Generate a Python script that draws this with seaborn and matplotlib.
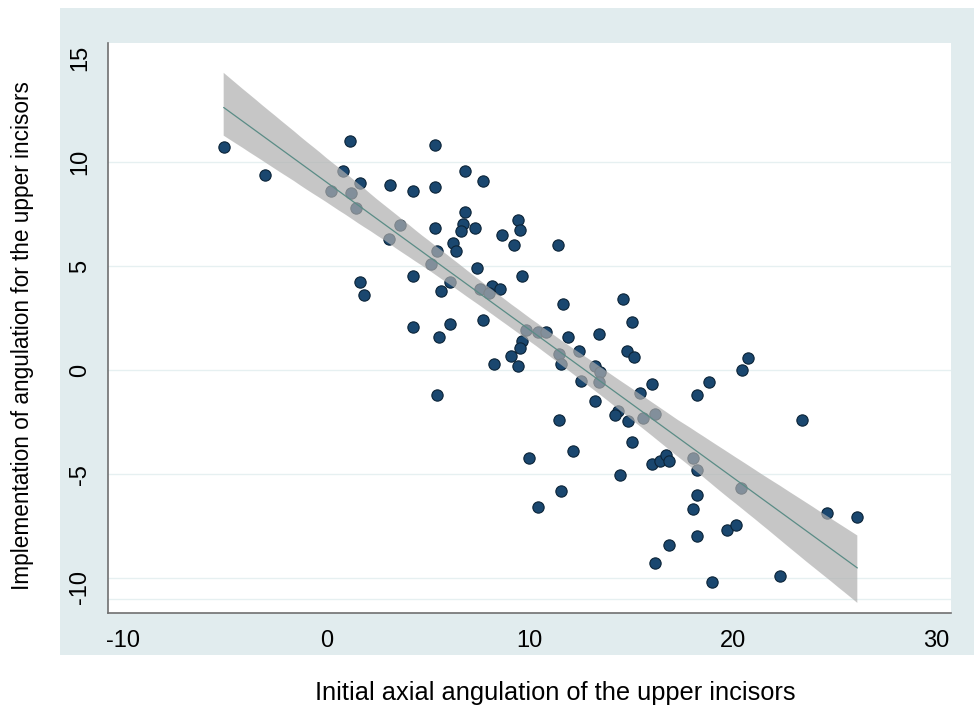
import matplotlib
matplotlib.use('Agg')
import matplotlib.pyplot as plt
from matplotlib.patches import Rectangle
import pandas as pd
import seaborn as sns

# initial axial angulation (x) and implementation of angulation (y)
initial_angle = [
    -5.05, -3.03, 1.15, 5.36, 0.84, 1.64, 0.25, 1.23, 1.44, 3.15,
    4.26, 5.36, 6.84, 7.72, 6.84, 9.44, 6.72, 6.64, 7.33, 5.36,
    9.54, 8.66, 9.25, 3.64, 3.07, 6.25, 6.38, 5.44, 5.16, 7.44,
    9.62, 4.26, 1.64, 1.84, 6.07, 5.66, 7.54, 8.15, 8.56, 8.03,
    7.72, 4.26, 6.07, 5.56, 9.82, 9.62, 9.54, 9.07, 8.26,
    11.38, 11.66, 14.62, 15.04, 11.87, 13.44, 12.44, 14.82, 15.15, 20.74,
    10.41, 10.79, 11.46, 9.44,
    11.54, 20.45, 13.23, 13.46, 13.44, 12.51, 16.04, 18.82, 18.26, 15.43,
    13.23, 14.33, 14.22, 14.84, 15.56, 16.15, 11.46, 23.41, 12.14, 15.05,
    16.04, 16.43, 16.71, 16.87, 18.05, 18.26, 14.43, 9.99, 11.54, 10.43,
    18.26, 18.05, 20.43, 24.63, 26.13, 19.74, 20.17, 18.26, 16.84, 16.15,
    22.33, 19.00, 5.45,
]
implemented_angle = [
    10.71, 9.40, 10.99, 10.81, 9.59, 9.00, 8.63, 8.50, 7.79, 8.90,
    8.61, 8.79, 9.57, 9.09, 7.60, 7.21, 7.00, 6.70, 6.81, 6.81,
    6.71, 6.51, 6.02, 6.99, 6.31, 6.10, 5.70, 5.70, 5.09, 4.90,
    4.50, 4.50, 4.21, 3.60, 4.21, 3.79, 3.92, 4.05, 3.92, 3.69,
    2.39, 2.09, 2.22, 1.57, 1.93, 1.41, 1.08, 0.70, 0.30,
    6.02, 3.20, 3.41, 2.30, 1.59, 1.72, 0.90, 0.93, 0.64, 0.58,
    1.82, 1.83, 0.78, 0.21,
    0.29, 0.00, 0.21, -0.10, -0.59, -0.51, -0.69, -0.59, -1.20, -1.08,
    -1.49, -1.98, -2.18, -2.46, -2.30, -2.09, -2.39, -2.39, -3.90, -3.48,
    -4.50, -4.37, -4.10, -4.37, -4.21, -4.79, -5.06, -4.21, -5.80, -6.59,
    -6.01, -6.70, -5.67, -6.88, -7.07, -7.68, -7.47, -7.99, -8.39, -9.27,
    -9.88, -10.19, -1.20,
]

x_ticks = [-10, 0, 10, 20, 30]
y_ticks = [-11, -10, -5, 0, 5, 10, 15]
y_tick_labels = ['', '', '-5', '0', '5', '10', '15']

df = pd.DataFrame({'initial': initial_angle, 'implemented': implemented_angle})

sns.set_style('white')
plt.rcParams['font.family'] = ['Liberation Sans', 'DejaVu Sans']
plt.rcParams['axes.unicode_minus'] = False

fig = plt.figure(figsize=(9.75, 7.07), dpi=100)
fig.patch.set_facecolor('white')
# light bluish graph region behind the plot
fig.patches.append(Rectangle((0.0615, 0.0735), 0.937, 0.915, transform=fig.transFigure,
                             facecolor='#E1ECEE', edgecolor='none', zorder=-1))

ax = fig.add_axes([0.1108, 0.1329, 0.8646, 0.8062])
ax.set_zorder(1)
ax.set_facecolor('white')

sns.regplot(x='initial', y='implemented', data=df, ax=ax, ci=95, n_boot=2000, seed=1,
            scatter_kws=dict(s=66, color='#1a476f', edgecolor='#0c2438', linewidths=0.8, alpha=1),
            line_kws=dict(color='#5a8c86', lw=0.9))

# grey CI band drawn over the points, like Stata's lfitci
band = ax.collections[-1]
band.set_facecolor('#afafaf')
band.set_edgecolor('none')
band.set_alpha(0.7)

ax.set_xlim(-10.74, 30.74)
ax.set_ylim(-11.68, 15.72)
ax.set_xticks(x_ticks)
ax.set_yticks(y_ticks)
ax.set_yticklabels(y_tick_labels)
ax.set_yticks([-10.45], minor=True)
ax.set_yticklabels(['-10'], minor=True)

ax.yaxis.grid(True, color='#E6F0F1', lw=1.0)
ax.xaxis.grid(False)
ax.get_ygridlines()[-1].set_visible(False)
ax.set_axisbelow(True)

for s in ['top', 'right']:
    ax.spines[s].set_visible(False)
for s in ['left', 'bottom']:
    ax.spines[s].set_color('#707070')
    ax.spines[s].set_linewidth(1.2)

ax.tick_params(axis='both', which='major', length=7.2, width=0.9, color='#707070',
               labelsize=17, pad=5, labelcolor='black', direction='out')
ax.tick_params(axis='y', which='minor', length=0, labelsize=17, pad=12.2, labelcolor='black')
ax.tick_params(axis='y', which='both', labelrotation=90)
for lab in ax.get_yticklabels(which='both'):
    lab.set_va('center')

ax.set_xlabel('Initial axial angulation of the upper incisors', fontsize=18.3, color='black')
ax.set_ylabel('Implementation of angulation for the upper incisors', fontsize=16.3, color='black')
ax.xaxis.set_label_coords(0.530, -0.119)
ax.yaxis.set_label_coords(-0.0878, 0.486)

fig.savefig('out.png', dpi=100)
